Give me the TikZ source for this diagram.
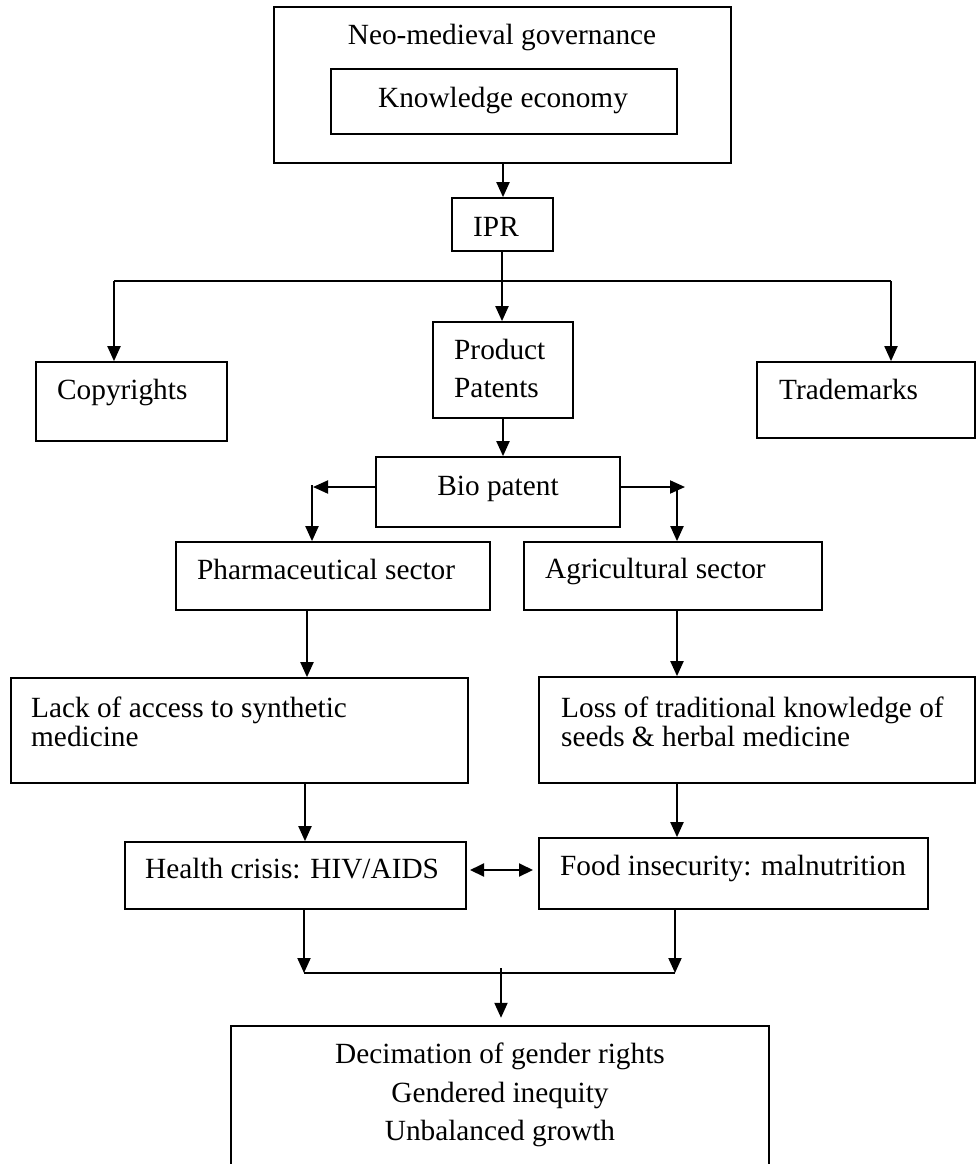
\documentclass[tikz,border=0pt]{standalone}
\usepackage{fontspec}
\setmainfont{Liberation Serif}
\usetikzlibrary{arrows.meta}
\begin{document}
\begin{tikzpicture}[x=1pt,y=-1pt,
  box/.style={draw,line width=1.7pt,inner sep=0pt,rectangle},
  txt/.style={inner sep=0pt,font=\fontsize{29.3}{35}\selectfont},
  arr/.style={line width=2pt,-{Triangle[length=15pt,width=13pt]}},
  dbl/.style={line width=2pt,{Triangle[length=14pt,width=13pt]}-{Triangle[length=14pt,width=13pt]}},
  ln/.style={line width=2pt}]
\useasboundingbox (0,0) rectangle (977,1164);
% boxes (centre, size)
\node[box,minimum width=457pt,minimum height=156pt] (top) at (502.5,85) {};
\node[box,minimum width=346pt,minimum height=65pt] (ke) at (504,101.5) {};
\node[box,minimum width=101pt,minimum height=53pt] (ipr) at (502.5,224.5) {};
\node[box,minimum width=191pt,minimum height=79pt] (copy) at (131.5,401.5) {};
\node[box,minimum width=140pt,minimum height=96pt] (prod) at (503,370) {};
\node[box,minimum width=218pt,minimum height=76pt] (trade) at (866,400) {};
\node[box,minimum width=244pt,minimum height=70pt] (bio) at (498,492) {};
\node[box,minimum width=314pt,minimum height=68pt] (pharma) at (333,576) {};
\node[box,minimum width=298pt,minimum height=68pt] (agri) at (673,576) {};
\node[box,minimum width=457pt,minimum height=105pt] (lack) at (239.5,730.5) {};
\node[box,minimum width=436pt,minimum height=106pt] (loss) at (757,730) {};
\node[box,minimum width=341pt,minimum height=67pt] (health) at (295.5,875.5) {};
\node[box,minimum width=389pt,minimum height=71pt] (food) at (733.5,873.5) {};
\node[inner sep=0pt,minimum width=538pt,minimum height=150pt] (bottom) at (500,1101) {};
\draw[line width=1.7pt] (bottom.south west) -- (bottom.north west) -- (bottom.north east) -- (bottom.south east);
% texts
\node[txt,anchor=base] (tNeo) at (502,45) {Neo-medieval governance};
\node[txt,anchor=base] (tKe) at (503,107) {Knowledge economy};
\node[txt,anchor=base west] (tIpr) at (473,236) {IPR};
\node[txt,anchor=base west] (tCopy) at (57,399) {Copyrights};
\node[txt,anchor=base west] (tProd) at (454,359) {Product};
\node[txt,anchor=base west] (tPat) at (454,397) {Patents};
\node[txt,anchor=base west] (tTrade) at (779,399) {Trademarks};
\node[txt,anchor=base] (tBio) at (498,495) {Bio patent};
\node[txt,anchor=base west] (tPharma) at (197,579) {Pharmaceutical sector};
\node[txt,anchor=base west] (tAgri) at (545,578) {Agricultural sector};
\node[txt,anchor=base west] (tLack1) at (31,717) {Lack of access to synthetic};
\node[txt,anchor=base west] (tLack2) at (31,746) {medicine};
\node[txt,anchor=base west] (tLoss1) at (561,717) {Loss of traditional knowledge of};
\node[txt,anchor=base west] (tLoss2) at (561,746) {seeds \& herbal medicine};
\node[txt,anchor=base west] (tHealth) at (145,878) {Health crisis: HIV/AIDS};
\node[txt,anchor=base west] (tFood) at (560,875) {Food insecurity: malnutrition};
\node[txt,anchor=base] (tB1) at (500,1063) {Decimation of gender rights};
\node[txt,anchor=base] (tB2) at (500,1102) {Gendered inequity};
\node[txt,anchor=base] (tB3) at (500,1140) {Unbalanced growth};
% junction coordinates
\coordinate (hl) at (114,281);
\coordinate (hr) at (891,281);
\coordinate (bl) at (313,487);
\coordinate (br) at (685,487);
\coordinate (jl) at (304,973);
\coordinate (jr) at (675,973);
\coordinate (jm) at (501,968);
% connectors
\draw[arr] (top.south -| 503,0) -- (ipr.north -| 503,0);
\draw[arr] (ipr.south -| 502,0) -- (prod.north -| 502,0);
\draw[ln] (hl) -- (hr);
\draw[arr] (hl) -- (copy.north -| hl);
\draw[arr] (hr) -- (trade.north -| hr);
\draw[arr] (prod.south -| 503,0) -- (bio.north -| 503,0);
\draw[arr] (bio.west |- bl) -- (bl);
\draw[arr] (312,485) -- (pharma.north -| 312,0);
\draw[arr] (bio.east |- br) -- (br);
\draw[arr] (677,485) -- (agri.north -| 677,0);
\draw[arr] (pharma.south -| 307,0) -- (lack.north -| 307,0);
\draw[arr] (agri.south -| 677,0) -- (loss.north -| 677,0);
\draw[arr] (lack.south -| 305,0) -- (health.north -| 305,0);
\draw[arr] (loss.south -| 677,0) -- (food.north -| 677,0);
\draw[dbl] (470,870) -- (533,870);
\draw[arr] (health.south -| jl) -- (jl);
\draw[arr] (food.south -| jr) -- (jr);
\draw[ln] (jl) -- (jr);
\draw[arr,shorten >=8pt] (jm) -- (bottom.north -| jm);
\end{tikzpicture}
\end{document}
